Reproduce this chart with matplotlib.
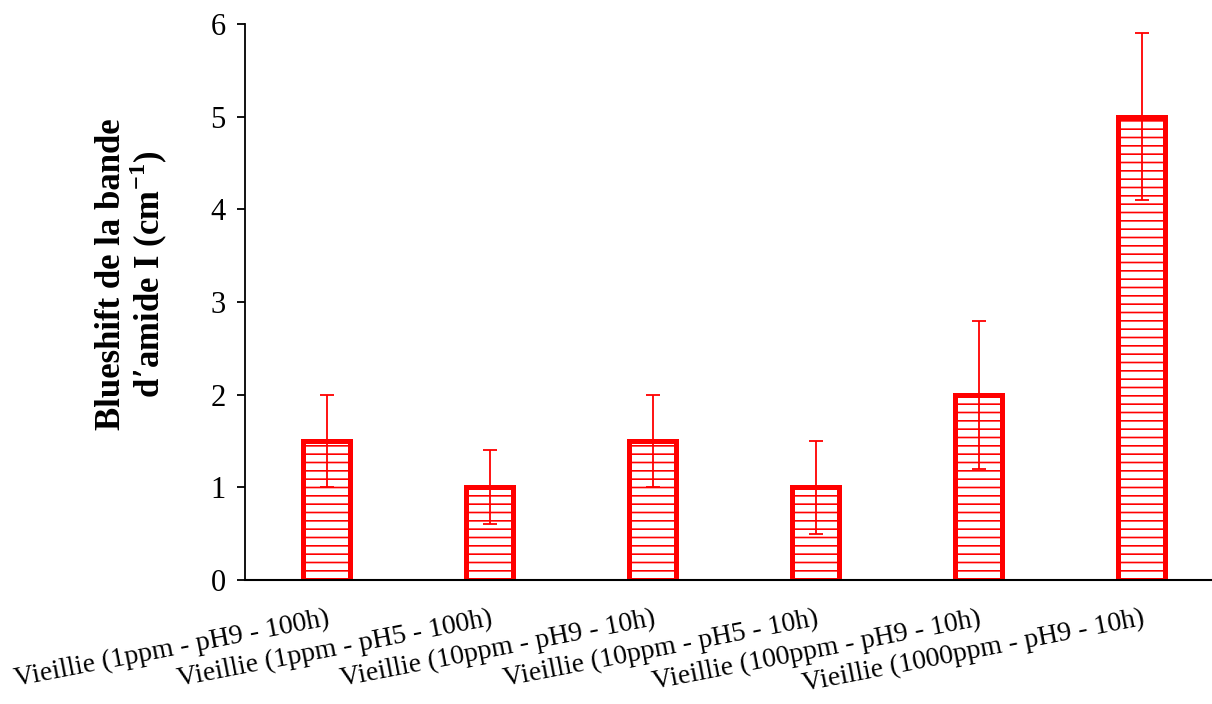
import matplotlib
matplotlib.use("Agg")
import matplotlib.pyplot as plt

# data
labels = [
    "Vieillie (1ppm - pH9 - 100h)",
    "Vieillie (1ppm - pH5 - 100h)",
    "Vieillie (10ppm - pH9 - 10h)",
    "Vieillie (10ppm - pH5 - 10h)",
    "Vieillie (100ppm - pH9 - 10h)",
    "Vieillie (1000ppm - pH9 - 10h)",
]
blueshift = [1.5, 1.0, 1.5, 1.0, 2.0, 5.0]
errors = [0.5, 0.4, 0.5, 0.5, 0.8, 0.9]

plt.rcParams['font.family'] = ['Liberation Serif', 'DejaVu Serif']
plt.rcParams['hatch.linewidth'] = 1.2
plt.rcParams['hatch.color'] = 'red'

W, H = 1212, 704
fig = plt.figure(figsize=(W / 100, H / 100), dpi=100)
ax = fig.add_axes([245 / W, (H - 580) / H, 978 / W, 556 / H])

x = list(range(len(labels)))
ax.bar(x, blueshift, width=0.29, facecolor='white', edgecolor='red',
       linewidth=3.6, hatch='--', zorder=2)
ax.errorbar(x, blueshift, yerr=errors, fmt='none', ecolor='red',
            elinewidth=1.3, capsize=5, capthick=1.3, zorder=3)

ax.set_xlim(-0.5, 5.5)
ax.set_ylim(0, 6)
ax.set_yticks(range(0, 7))
ax.tick_params(axis='y', labelsize=22, direction='out', length=6, width=1.3, pad=8)
ax.tick_params(axis='x', length=0, pad=19)
ax.set_xticks(x)
ax.set_xticklabels(labels, fontsize=20, rotation=11, ha='right', va='top',
                   rotation_mode='anchor')

for s in ['top', 'right']:
    ax.spines[s].set_visible(False)
ax.spines['left'].set_linewidth(1.3)
ax.spines['bottom'].set_linewidth(1.5)

ax.set_ylabel("Blueshift de la bande\nd\u2019amide I (cm$^{\\mathregular{-1}}$)",
              fontsize=25, fontweight='bold', linespacing=1.0)
ax.yaxis.set_label_coords(-0.077, 0.55)

fig.savefig("out.png", dpi=100)
